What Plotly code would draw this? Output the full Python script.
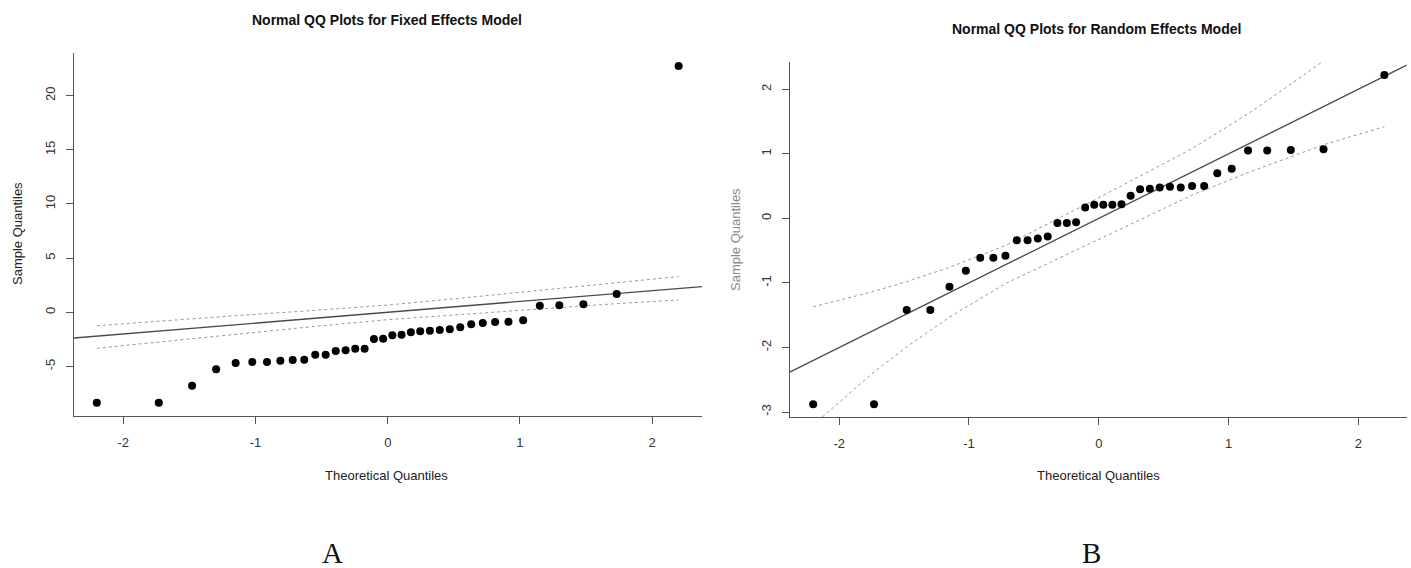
import plotly.graph_objects as go

# Theoretical normal quantiles (x positions)
theoretical_q = [-2.2004, -1.7317, -1.4799, -1.2979, -1.1503, -1.0242, -0.9132, -0.8122,
                 -0.7189, -0.6314, -0.5485, -0.4695, -0.3934, -0.3186, -0.2456, -0.1748,
                 -0.1046, -0.0348, 0.0348, 0.1046, 0.1748, 0.2456, 0.3186, 0.3934,
                 0.4695, 0.5485, 0.6314, 0.7189, 0.8122, 0.9132, 1.0242, 1.1503,
                 1.2979, 1.4799, 1.7317, 2.2004]

# Panel A: fixed effects model sample quantiles
fixed_sample = [-8.35, -8.35, -6.78, -5.26, -4.68, -4.59, -4.59, -4.47, -4.40, -4.38,
                -3.92, -3.92, -3.57, -3.51, -3.36, -3.36, -2.47, -2.44, -2.12, -2.07,
                -1.85, -1.75, -1.70, -1.63, -1.57, -1.39, -1.11, -0.99, -0.90, -0.87,
                -0.74, 0.61, 0.65, 0.74, 1.69, 22.75]

# Panel B: random effects model sample quantiles
random_sample = [-2.88, -2.88, -1.42, -1.42, -1.06, -0.81, -0.61, -0.61, -0.58, -0.34,
                 -0.34, -0.31, -0.28, -0.07, -0.07, -0.06, 0.17, 0.21, 0.21, 0.21,
                 0.22, 0.35, 0.45, 0.46, 0.48, 0.49, 0.48, 0.50, 0.50, 0.70,
                 0.77, 1.05, 1.05, 1.06, 1.07, 2.22]

# Reference line (slope 1, intercept 0)
ref_x = [-2.6, 2.6]
ref_y = [-2.6, 2.6]

# Envelope for panel A
env_a_z = [-2.2004, -1.7317, -1.1503, -0.5485, 0.0, 0.5485, 1.1503, 1.7317, 2.2004]
env_a_upper = [-1.24, -0.80, -0.31, 0.18, 0.67, 1.30, 2.03, 2.74, 3.30]
env_a_lower = [-3.32, -2.74, -2.03, -1.30, -0.68, -0.18, 0.31, 0.80, 1.14]

# Envelope for panel B
env_b_z = [-2.2004, -1.7317, -1.4799, -1.1503, -0.7189, 0.0, 0.7189, 1.1503, 1.4799, 1.7317, 2.2004]
env_b_upper = [-1.37, -1.13, -0.98, -0.76, -0.42, 0.32, 1.08, 1.62, 2.08, 2.44, 3.24]
env_b_lower = [-3.20, -2.38, -1.99, -1.53, -1.01, -0.33, 0.36, 0.71, 0.96, 1.14, 1.42]

x_ticks = [-2, -1, 0, 1, 2]
x_tick_labels = ["-2", "-1", "0", "1", "2"]
y_ticks_a = [-5, 0, 5, 10, 15, 20]
y_tick_labels_a = ["-5", "0", "5", "10", "15", "20"]
y_ticks_b = [-3, -2, -1, 0, 1, 2]
y_tick_labels_b = ["-3", "-2", "-1", "0", "1", "2"]

W, H = 1411, 568
fig = go.Figure()

dot_style = dict(color="#999999", width=1, dash="dot")
line_style = dict(color="#4a4a4a", width=1.3)
marker_style = dict(color="black", size=8)

for xa, ya, ys, ez, eu, el in [("x", "y", fixed_sample, env_a_z, env_a_upper, env_a_lower),
                               ("x2", "y2", random_sample, env_b_z, env_b_upper, env_b_lower)]:
    fig.add_trace(go.Scatter(x=ez, y=eu, mode="lines", line=dot_style, xaxis=xa, yaxis=ya,
                             showlegend=False, hoverinfo="skip"))
    fig.add_trace(go.Scatter(x=ez, y=el, mode="lines", line=dot_style, xaxis=xa, yaxis=ya,
                             showlegend=False, hoverinfo="skip"))
    fig.add_trace(go.Scatter(x=ref_x, y=ref_y, mode="lines", line=line_style, xaxis=xa, yaxis=ya,
                             showlegend=False, hoverinfo="skip"))
    fig.add_trace(go.Scatter(x=theoretical_q, y=ys, mode="markers", marker=marker_style,
                             xaxis=xa, yaxis=ya, showlegend=False, cliponaxis=False))

tick_font = dict(family="Liberation Sans, Arial, sans-serif", size=13, color="#333333")
axis_common = dict(showgrid=False, zeroline=False, showline=True, linecolor="#555555",
                   linewidth=1.3, ticks="outside", ticklen=7, tickcolor="#555555",
                   tickwidth=1.2, tickfont=tick_font, fixedrange=True)

fig.update_layout(
    width=W, height=H,
    margin=dict(l=0, r=0, t=0, b=0),
    paper_bgcolor="white", plot_bgcolor="white",
    xaxis=dict(domain=[74 / W, 702 / W], range=[-2.373, 2.377], tickvals=x_ticks,
               ticktext=x_tick_labels, ticklabelstandoff=7, anchor="y", **axis_common),
    yaxis=dict(domain=[(H - 416) / H, (H - 53) / H], range=[-9.575, 23.94], tickvals=y_ticks_a,
               ticktext=y_tick_labels_a, ticklabelstandoff=6, tickangle=-90, anchor="x",
               **axis_common),
    xaxis2=dict(domain=[790 / W, 1406.5 / W], range=[-2.379, 2.371], tickvals=x_ticks,
                ticktext=x_tick_labels, ticklabelstandoff=7, anchor="y2", **axis_common),
    yaxis2=dict(domain=[(H - 417) / H, (H - 62.3) / H], range=[-3.077, 2.418], tickvals=y_ticks_b,
                ticktext=y_tick_labels_b, ticklabelstandoff=6, tickangle=-90, anchor="x2",
                **axis_common),
)

title_font = dict(family="Liberation Sans, Arial, sans-serif", size=14, color="#111111")
lab_font = dict(family="Liberation Sans, Arial, sans-serif", size=13, color="#222222")
big_font = dict(family="Liberation Serif, Times New Roman, serif", size=29, color="#111111")

annots = [
    dict(text="<b>Normal QQ Plots for Fixed Effects Model</b>", x=387 / W, y=1 - 20 / H, font=title_font),
    dict(text="<b>Normal QQ Plots for Random Effects Model</b>", x=1096 / W, y=1 - 29 / H, font=title_font),
    dict(text="Theoretical Quantiles", x=387 / W, y=1 - 475 / H, font=lab_font),
    dict(text="Theoretical Quantiles", x=1098 / W, y=1 - 475 / H, font=lab_font),
    dict(text="Sample Quantiles", x=17 / W, y=1 - 234 / H, font=lab_font, textangle=-90),
    dict(text="Sample Quantiles", x=735 / W, y=1 - 240 / H,
         font=dict(family="Liberation Sans, Arial, sans-serif", size=13, color="#888888"), textangle=-90),
    dict(text="A", x=332 / W, y=1 - 553 / H, font=big_font),
    dict(text="B", x=1091 / W, y=1 - 553 / H, font=big_font),
]
for a in annots:
    fig.add_annotation(xref="paper", yref="paper", showarrow=False, xanchor="center",
                       yanchor="middle", **a)

fig.write_html("out.html")
